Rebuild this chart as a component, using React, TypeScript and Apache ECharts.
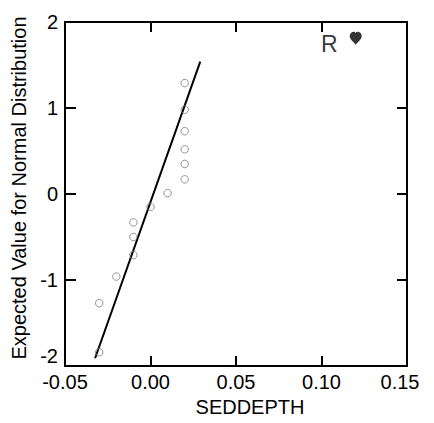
import React, { useEffect, useRef } from "react";
import * as echarts from "echarts";

// Normal probability plot of SEDDEPTH
const pointX = [-0.03, -0.03, -0.02, -0.01, -0.01, -0.01, 0.0, 0.01, 0.02, 0.02, 0.02, 0.02, 0.02, 0.02];
const pointY = [-1.84, -1.27, -0.96, -0.71, -0.5, -0.33, -0.15, 0.01, 0.17, 0.35, 0.52, 0.73, 0.98, 1.29];
const outlierX = [0.12];
const outlierY = [1.81];
const outlierLabel = "R";
const fitLineX = [-0.0324, 0.0291];
const fitLineY = [-1.91, 1.54];
const xTitle = "SEDDEPTH";
const yTitle = "Expected Value for Normal Distribution";
const xMin = -0.05, xMax = 0.15, xStep = 0.05;
const yMin = -2, yMax = 2, yStep = 1;

const FONT = "'Liberation Sans', Arial, Helvetica, sans-serif";
const HEART =
  "path://M6,14 C2.5,9.5 0,7.5 0,4.5 C0,2 2,0 4,0 C5,0 5.6,0.6 6,1.3 C6.4,0.6 7,0 8,0 C10,0 12,2 12,4.5 C12,7.5 9.5,9.5 6,14 Z";

export default function App() {
  const ref = useRef<HTMLDivElement>(null);
  useEffect(() => {
    document.body.style.margin = "0";
    const chart = echarts.init(ref.current!, null, { renderer: "svg" });
    const axisLine = { show: true, onZero: false, lineStyle: { color: "#000", width: 2 } };
    const tick = (len: number) => ({ show: true, inside: true, length: len, lineStyle: { color: "#000", width: 2 } });
    const fmtX = (v: number) => {
      const s = (Math.abs(v) < 1e-9 ? 0 : v).toFixed(2);
      return Math.abs(v - xMax) < 1e-9 ? "{m|" + s + "}" : s;
    };
    chart.setOption({
      animation: false,
      backgroundColor: "#fff",
      textStyle: { fontFamily: FONT },
      grid: { left: 65, right: 27, top: 22, bottom: 57 },
      xAxis: [
        {
          type: "value",
          min: xMin,
          max: xMax,
          interval: xStep,
          position: "bottom",
          axisLine,
          axisTick: tick(10),
          axisLabel: {
            color: "#000",
            fontSize: 20,
            fontFamily: FONT,
            margin: 6,
            formatter: fmtX,
            rich: { m: { color: "#000", fontSize: 20, fontFamily: FONT, padding: [0, 14, 0, 0] } },
          },
          splitLine: { show: false },
          name: xTitle,
          nameLocation: "middle",
          nameGap: 30,
          nameTextStyle: { color: "#000", fontSize: 20, fontFamily: FONT, padding: [0, 0, 0, 28] },
        },
        {
          type: "value",
          min: xMin,
          max: xMax,
          interval: xStep,
          position: "top",
          axisLine,
          axisTick: tick(10),
          axisLabel: { show: false },
          splitLine: { show: false },
        },
      ],
      yAxis: [
        {
          type: "value",
          min: yMin,
          max: yMax,
          interval: yStep,
          position: "left",
          axisLine,
          axisTick: tick(11),
          axisLabel: { color: "#000", fontSize: 20, fontFamily: FONT, margin: 7, verticalAlignMinLabel: "bottom" },
          splitLine: { show: false },
          name: yTitle,
          nameLocation: "middle",
          nameGap: 27,
          nameTextStyle: { color: "#000", fontSize: 20, fontFamily: FONT, padding: [0, 0, 0, 12] },
        },
        {
          type: "value",
          min: yMin,
          max: yMax,
          interval: yStep,
          position: "right",
          axisLine,
          axisTick: tick(10),
          axisLabel: { show: false },
          splitLine: { show: false },
        },
      ],
      series: [
        {
          type: "line",
          data: fitLineX.map((x, i) => [x, fitLineY[i]]),
          showSymbol: false,
          symbol: "none",
          lineStyle: { color: "#000", width: 2 },
          z: 2,
        },
        {
          type: "scatter",
          data: pointX.map((x, i) => [x, pointY[i]]),
          symbol: "circle",
          symbolSize: 7.5,
          itemStyle: { color: "rgba(255,255,255,0)", borderColor: "#7a7a7a", borderWidth: 1 },
          z: 3,
        },
        {
          type: "scatter",
          data: outlierX.map((x, i) => [x, outlierY[i]]),
          symbol: HEART,
          symbolSize: [12, 13],
          itemStyle: { color: "#000" },
          label: {
            show: true,
            position: "left",
            distance: 12,
            formatter: outlierLabel,
            color: "#000",
            fontSize: 23,
            fontFamily: FONT,
            offset: [0, 6],
          },
          z: 4,
        },
      ],
    });
    return () => chart.dispose();
  }, []);
  return <div ref={ref} style={{ position: "fixed", left: 0, top: 0, width: 434, height: 423 }} />;
}
